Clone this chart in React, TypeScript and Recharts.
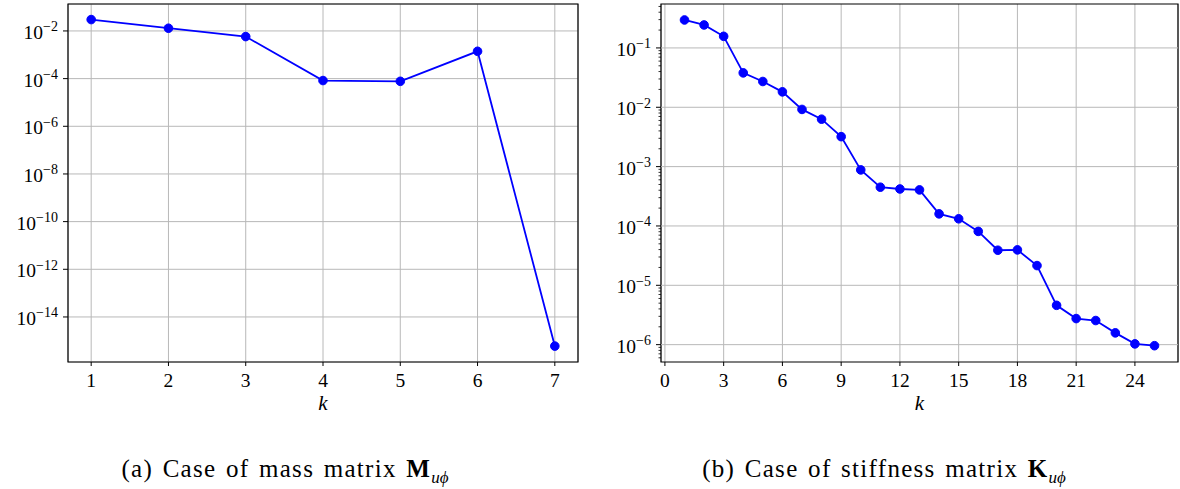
import { LineChart, Line, XAxis, YAxis, CartesianGrid, ReferenceLine, ReferenceArea } from 'recharts';

// (a) mass matrix coupling
const massK = [1, 2, 3, 4, 5, 6, 7];
const massValues = [3.0e-2, 1.3e-2, 5.8e-3, 8.3e-5, 7.7e-5, 1.4e-3, 6.0e-16];
const massXTicks = [1, 2, 3, 4, 5, 6, 7];
const massYTicks = [1e-2, 1e-4, 1e-6, 1e-8, 1e-10, 1e-12, 1e-14];
const massXDomain: [number, number] = [0.7, 7.3];
const massYDomain: [number, number] = [1.29e-16, 0.135];

// (b) stiffness matrix coupling
const stiffK = [1, 2, 3, 4, 5, 6, 7, 8, 9, 10, 11, 12, 13, 14, 15, 16, 17, 18, 19, 20, 21, 22, 23, 24, 25];
const stiffValues = [
  0.296, 0.244, 0.157, 0.038, 0.0272, 0.0182, 0.0092, 0.0063, 0.0032, 8.8e-4,
  4.5e-4, 4.2e-4, 4.05e-4, 1.6e-4, 1.32e-4, 8.1e-5, 3.9e-5, 3.95e-5, 2.15e-5, 4.6e-6,
  2.75e-6, 2.55e-6, 1.58e-6, 1.03e-6, 0.96e-6,
];
const stiffXTicks = [0, 3, 6, 9, 12, 15, 18, 21, 24];
const stiffYTicks = [1e-1, 1e-2, 1e-3, 1e-4, 1e-5, 1e-6];
const stiffXDomain: [number, number] = [-0.2, 26.2];
const stiffYDomain: [number, number] = [5.1e-7, 0.55];

const FONT = '"Liberation Serif", "DejaVu Serif", serif';
const GRID = '#b8b8b8';
const BLUE = '#0000ff';

// minor log ticks (2..9 x 10^n) for the right panel, kept inside the domain
const decades = [1e-7, 1e-6, 1e-5, 1e-4, 1e-3, 1e-2, 1e-1];
const stiffMinor = decades
  .flatMap((d) => [2, 3, 4, 5, 6, 7, 8, 9].map((m) => m * d))
  .filter((v) => v >= stiffYDomain[0] && v <= stiffYDomain[1]);
const stiffAllTicks = [...stiffYTicks, ...stiffMinor].sort((a, b) => a - b);

const massData = massK.map((k, i) => ({ k, value: massValues[i] }));
const stiffData = stiffK.map((k, i) => ({ k, value: stiffValues[i] }));

type TickProps = { x?: number; y?: number; payload?: { value: number } };

function LogTick({ x = 0, y = 0, payload }: TickProps) {
  const v = payload?.value ?? 1;
  const lg = Math.log10(v);
  const e = Math.round(lg);
  if (Math.abs(lg - e) > 1e-6) {
    return <line x1={x - 2.5} x2={x} y1={y} y2={y} stroke="#000" strokeWidth={0.8} />;
  }
  return (
    <g>
      <line x1={x - 5} x2={x} y1={y} y2={y} stroke="#000" strokeWidth={1} />
      <text x={x - 10} y={y + 8} textAnchor="end" fontFamily={FONT} fontSize={19.5} fill="#000">
        10
        <tspan dy={-7.5} fontSize={14}>{`\u2212${-e}`}</tspan>
      </text>
    </g>
  );
}

const xTickStyle = { fill: '#000', fontSize: 19.5, fontFamily: FONT };

const captionStyle = {
  position: 'absolute' as const,
  top: 456,
  textAlign: 'center' as const,
  fontFamily: FONT,
  fontSize: 25,
  lineHeight: 1,
  letterSpacing: 1.3,
  wordSpacing: 2,
  color: '#000',
};

export default function App() {
  return (
    <div style={{ position: 'absolute', left: 0, top: 0, width: 1180, height: 489, background: '#fff' }}>
      <div style={{ position: 'absolute', left: 0, top: 0 }}>
        <LineChart width={590} height={420} data={massData} margin={{ top: 4, right: 12, left: 0, bottom: 0 }}>
          <CartesianGrid stroke={GRID} strokeWidth={1} />
          <XAxis
            dataKey="k"
            type="number"
            domain={massXDomain}
            ticks={massXTicks}
            allowDataOverflow
            axisLine={false}
            tickSize={4}
            tickMargin={7}
            tickLine={{ stroke: '#000' }}
            tick={xTickStyle}
            height={58}
            label={{ value: 'k', position: 'insideBottom', offset: 10, fill: '#000', fontSize: 21, fontStyle: 'italic', fontFamily: FONT }}
          />
          <YAxis
            type="number"
            scale="log"
            domain={massYDomain}
            ticks={massYTicks}
            allowDataOverflow
            interval={0}
            axisLine={false}
            tickLine={false}
            tickSize={0}
            tickMargin={0}
            tick={<LogTick />}
            width={68}
          />
          <ReferenceArea
            x1={massXDomain[0]}
            x2={massXDomain[1]}
            y1={massYDomain[0]}
            y2={massYDomain[1]}
            fill="none"
            stroke="#000"
            strokeWidth={1.2}
            ifOverflow="visible"
          />
          <Line
            type="linear"
            dataKey="value"
            stroke={BLUE}
            strokeWidth={1.8}
            dot={{ r: 4.3, fill: BLUE, stroke: BLUE, strokeWidth: 1 }}
            isAnimationActive={false}
          />
        </LineChart>
      </div>

      <div style={{ position: 'absolute', left: 590, top: 0 }}>
        <LineChart width={590} height={420} data={stiffData} margin={{ top: 4, right: 2, left: 0, bottom: 0 }}>
          <CartesianGrid stroke={GRID} strokeWidth={1} horizontal={false} />
          {stiffYTicks.map((t) => (
            <ReferenceLine key={t} y={t} stroke={GRID} strokeWidth={1} />
          ))}
          <XAxis
            dataKey="k"
            type="number"
            domain={stiffXDomain}
            ticks={stiffXTicks}
            allowDataOverflow
            axisLine={false}
            tickSize={4}
            tickMargin={7}
            tickLine={{ stroke: '#000' }}
            tick={xTickStyle}
            height={58}
            label={{ value: 'k', position: 'insideBottom', offset: 10, fill: '#000', fontSize: 21, fontStyle: 'italic', fontFamily: FONT }}
          />
          <YAxis
            type="number"
            scale="log"
            domain={stiffYDomain}
            ticks={stiffAllTicks}
            allowDataOverflow
            interval={0}
            axisLine={false}
            tickLine={false}
            tickSize={0}
            tickMargin={0}
            tick={<LogTick />}
            width={71}
          />
          <ReferenceArea
            x1={stiffXDomain[0]}
            x2={stiffXDomain[1]}
            y1={stiffYDomain[0]}
            y2={stiffYDomain[1]}
            fill="none"
            stroke="#000"
            strokeWidth={1.2}
            ifOverflow="visible"
          />
          <Line
            type="linear"
            dataKey="value"
            stroke={BLUE}
            strokeWidth={1.8}
            dot={{ r: 4.3, fill: BLUE, stroke: BLUE, strokeWidth: 1 }}
            isAnimationActive={false}
          />
        </LineChart>
      </div>

      <div style={{ ...captionStyle, left: 0, width: 570 }}>
        (a) Case of mass matrix <b>M</b>
        <sub style={{ fontSize: 17, fontStyle: 'italic', letterSpacing: 0 }}>u{'\u03D5'}</sub>
      </div>
      <div style={{ ...captionStyle, left: 590, width: 588 }}>
        (b) Case of stiffness matrix <b>K</b>
        <sub style={{ fontSize: 17, fontStyle: 'italic', letterSpacing: 0 }}>u{'\u03D5'}</sub>
      </div>
    </div>
  );
}
